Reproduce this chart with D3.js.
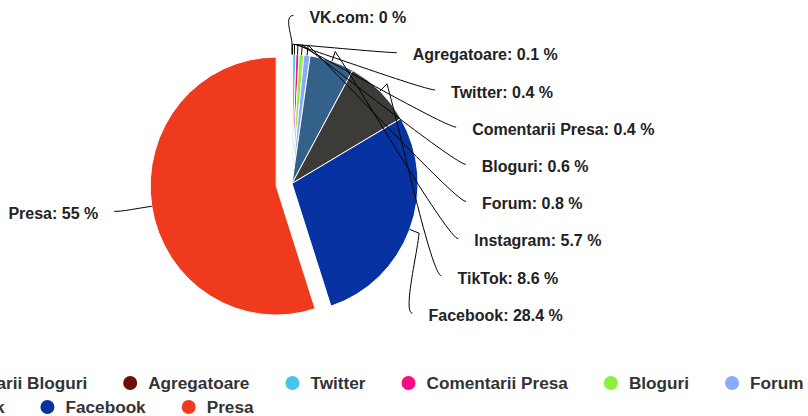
<!DOCTYPE html>
<html><head><meta charset="utf-8">
<script src="https://cdn.jsdelivr.net/npm/d3@7"></script>
<style>html,body{margin:0;padding:0;background:#fff;overflow:hidden}</style>
</head><body>
<svg id="chart" width="808" height="416"></svg>
<script>
// ---- data ----
const categories = ["VK.com","Comentarii Bloguri","Agregatoare","Twitter","Comentarii Presa","Bloguri","Forum","Instagram","TikTok","Facebook","Presa"];
const shares     = [0, null, 0.1, 0.4, 0.4, 0.6, 0.8, 5.7, 8.6, 28.4, 55];
const colors     = ["#4c75a3","#1c1c1c","#6b0e08","#45c5ea","#ff0a80","#8ef03c","#88aaff","#34618a","#3d3b38","#0733a2","#f03a1e"];
const slicedCategory = "Presa";

// ---- layout ----
const W = 808, H = 416;
const cx = 292, cy = 183.5, r = 126, sy = 129 / 126;
const slicedOffset = 16;
const labelFont = "bold 16px 'Liberation Sans', Arial, sans-serif";
const legendFont = "bold 17.2px 'Liberation Sans', Arial, sans-serif";

const svg = d3.select("#chart");
const data = categories.map((c, i) => ({ name: c, value: shares[i], color: colors[i] }));
const pie = d3.pie().sort(null).value(d => d.value || 0).startAngle(0).endAngle(2 * Math.PI);
const arcs = pie(data);
const arcGen = d3.arc().innerRadius(0).outerRadius(r);

const mid = d => (d.startAngle + d.endAngle) / 2;
const dirOf = a => [Math.sin(a), -Math.cos(a) * sy];
function offsetOf(d) {
  if (d.data.name !== slicedCategory) return [0, 0];
  const v = dirOf(mid(d));
  return [v[0] * slicedOffset, v[1] * slicedOffset];
}

// slices
const sliceG = svg.append("g");
sliceG.selectAll("path").data(arcs.filter(d => d.value > 0)).join("path")
  .attr("transform", d => { const o = offsetOf(d); return `translate(${cx + o[0]},${cy + o[1]}) scale(1,${sy})`; })
  .attr("d", arcGen)
  .attr("fill", d => d.data.color)
  .attr("stroke", "#fff").attr("stroke-width", 1)
  .attr("vector-effect", "non-scaling-stroke");

// labels layout (Highcharts-like distribution)
const labelled = arcs.filter(d => d.data.value !== null);
const rightSide = labelled.filter(d => mid(d) < Math.PI);
const leftSide = labelled.filter(d => mid(d) >= Math.PI);
const labelR = 191, labelStep = 37.2, labelTop = cy - 166;
const ecy = cy + 1.5;

rightSide.forEach(d => { d.natY = ecy - Math.cos(mid(d)) * labelR; });
let prevY = -Infinity;
rightSide.forEach(d => {
  let y = Math.max(d.natY, labelTop, prevY + labelStep);
  d.ly = y; prevY = y;
});
leftSide.forEach(d => { d.ly = cy - Math.cos(mid(d)) * labelR; });

function labelX(d, side) {
  const dy = d.ly - ecy;
  const ry = dy < 0 ? 168.2 : 186;
  const k = Math.sqrt(Math.max(0, 1 - (dy / ry) * (dy / ry)));
  return side > 0 ? cx + labelR * k : cx - labelR * k - 5;
}
rightSide.forEach(d => { d.lx = labelX(d, 1); d.side = 1; });
leftSide.forEach(d => { d.lx = labelX(d, -1); d.side = -1; });
const all = rightSide.concat(leftSide);

// connectors
const connG = svg.append("g");
all.forEach(d => {
  const o = offsetOf(d), m = mid(d), v = dirOf(m);
  const T = [cx + o[0] + v[0] * r, cy + o[1] + v[1] * r];
  const B = [cx + o[0] + v[0] * (r + 10), cy + o[1] + v[1] * (r + 10)];
  const A = [d.lx - d.side * 16, d.ly - 2];
  const c1 = [A[0] - d.side * 10, A[1]];
  const c2 = [B[0] + (A[0] - B[0]) * 0.25, B[1] + (A[1] - B[1]) * 0.25];
  connG.append("path")
    .attr("d", `M${A[0]},${A[1]} C${c1[0]},${c1[1]} ${c2[0]},${c2[1]} ${B[0]},${B[1]} L${T[0]},${T[1]}`)
    .attr("fill", "none").attr("stroke", "#000").attr("stroke-width", 1);
});

// label texts
const fmt = v => (Math.round(v * 10) / 10).toString();
svg.append("g").selectAll("text").data(all).join("text")
  .attr("x", d => d.lx).attr("y", d => d.ly + 5.7)
  .attr("text-anchor", d => d.side > 0 ? "start" : "end")
  .style("font", labelFont).attr("fill", "#222")
  .text(d => `${d.data.name}: ${fmt(d.data.value)} %`);

// legend
const legendG = svg.append("g");
const legendItems = legendG.selectAll("g").data(data).join("g");
legendItems.append("circle").attr("r", 7).attr("fill", d => d.color);
legendItems.append("text").attr("x", 18).attr("y", 6).style("font", legendFont).attr("fill", "#333").text(d => d.name);
const legendMaxW = 1080, itemGap = 36, rowH = 24, legendY = 383, legendCenter = cx + 1;
let rows = [[]], x = 0;
legendItems.each(function (d) {
  const w = 25 + this.querySelector("text").getComputedTextLength();
  if (x > 0 && x + w > legendMaxW) { rows.push([]); x = 0; }
  rows[rows.length - 1].push({ node: this, x: x });
  x += w + itemGap;
  rows[rows.length - 1].width = x - itemGap;
});
const boxW = d3.max(rows, rw => rw.width);
const left = legendCenter - boxW / 2;
rows.forEach((rw, ri) => rw.forEach(it => {
  d3.select(it.node).attr("transform", `translate(${left + it.x + 7},${legendY + ri * rowH})`);
}));
</script>
</body></html>
